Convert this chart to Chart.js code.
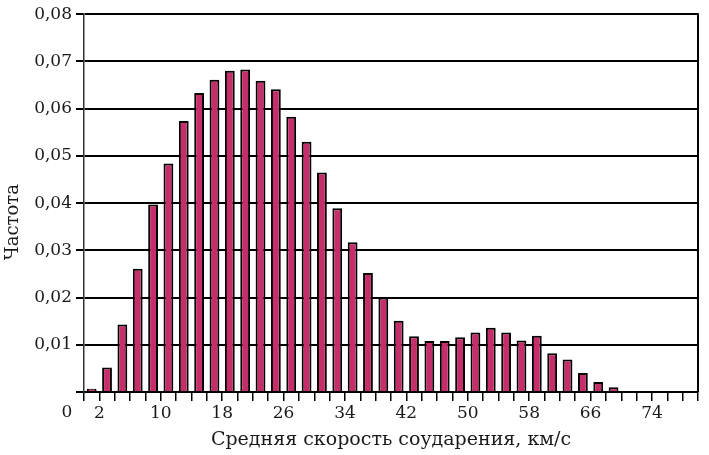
<!DOCTYPE html>
<html>
<head>
<meta charset="utf-8">
<script src="https://cdn.jsdelivr.net/npm/chart.js@4/dist/chart.umd.min.js"></script>
<style>
  html, body { margin: 0; padding: 0; background: #fff; }
  canvas { display: block; }
</style>
</head>
<body>
<canvas id="chart" width="709" height="455"></canvas>
<script>
// bin centres, km/s
const speeds = [1, 3, 5, 7, 9, 11, 13, 15, 17, 19, 21, 23, 25, 27, 29, 31, 33, 35, 37, 39,
                41, 43, 45, 47, 49, 51, 53, 55, 57, 59, 61, 63, 65, 67, 69, 71, 73, 75, 77, 79]
const freq = [0.0007, 0.0052, 0.0143, 0.0261, 0.0397, 0.0484, 0.0574, 0.0633, 0.0661, 0.0680,
              0.0683, 0.0659, 0.0641, 0.0583, 0.0530, 0.0465, 0.0389, 0.0317, 0.0252, 0.0200,
              0.0151, 0.0118, 0.0108, 0.0108, 0.0116, 0.0126, 0.0136, 0.0126, 0.0109, 0.0119,
              0.0082, 0.0069, 0.0040, 0.0021, 0.0010, 0, 0, 0, 0, 0]
const xLabels = [2, 10, 18, 26, 34, 42, 50, 58, 66, 74]
const xTitle = 'Средняя скорость соударения, км/с'
const yTitle = 'Частота'

const FONT = 'DejaVu Serif'
const INK = '#1a1a1a'

// extra bits: right frame line, the "0" under the origin, rotated y title
const extras = {
    id: 'extras',
    afterDraw(chart) {
        const ctx = chart.ctx
        const area = chart.chartArea
        const xs = chart.scales.x
        ctx.save()
        ctx.strokeStyle = '#000'
        ctx.lineWidth = 2
        ctx.beginPath()
        ctx.moveTo(area.right, area.top - 1)
        ctx.lineTo(area.right, area.bottom)
        ctx.stroke()

        ctx.fillStyle = INK
        ctx.font = '17px "' + FONT + '"'
        ctx.textAlign = 'center'
        ctx.textBaseline = 'middle'
        ctx.fillText('0', xs.getPixelForValue(0) - 17, area.bottom + 21)

        ctx.font = '18px "' + FONT + '"'
        ctx.translate(13, (area.top + area.bottom) / 2 + 19)
        ctx.rotate(-Math.PI / 2)
        ctx.fillText(yTitle, 0, 0)
        ctx.restore()
    }
}

new Chart(document.getElementById('chart'), {
    type: 'bar',
    data: {
        datasets: [{
            data: speeds.map((s, i) => ({ x: s, y: freq[i] })),
            backgroundColor: '#c62d6b',
            borderColor: '#000',
            borderWidth: 2,
            barPercentage: 0.64,
            categoryPercentage: 1
        }]
    },
    options: {
        responsive: false,
        animation: false,
        layout: { padding: { top: 10, right: 11, left: 0, bottom: 0 } },
        plugins: { legend: { display: false }, tooltip: { enabled: false } },
        scales: {
            x: {
                type: 'linear',
                min: 0,
                max: 80,
                offset: false,
                border: { color: '#000', width: 2 },
                grid: { offset: false, drawOnChartArea: false, color: '#000', lineWidth: 1.5, tickLength: 9 },
                ticks: {
                    stepSize: 2,
                    autoSkip: false,
                    maxRotation: 0,
                    padding: 2,
                    color: INK,
                    font: { family: FONT, size: 17 },
                    callback: v => xLabels.includes(v) ? String(v) : ''
                },
                title: {
                    display: true,
                    text: xTitle,
                    color: INK,
                    font: { family: FONT, size: 19 },
                    padding: { top: 0, bottom: 4 }
                },
                afterFit: s => { s.height = 63 }
            },
            y: {
                min: 0,
                max: 0.08,
                border: { color: '#333', width: 1.5 },
                grid: { color: '#000', lineWidth: 2, tickLength: 8 },
                ticks: {
                    stepSize: 0.01,
                    padding: 4,
                    color: INK,
                    font: { family: FONT, size: 17 },
                    callback: v => v < 0.001 ? '' : v.toFixed(2).replace('.', ',')
                },
                afterFit: s => { s.width = 84 }
            }
        }
    },
    plugins: [extras]
})
</script>
</body>
</html>
